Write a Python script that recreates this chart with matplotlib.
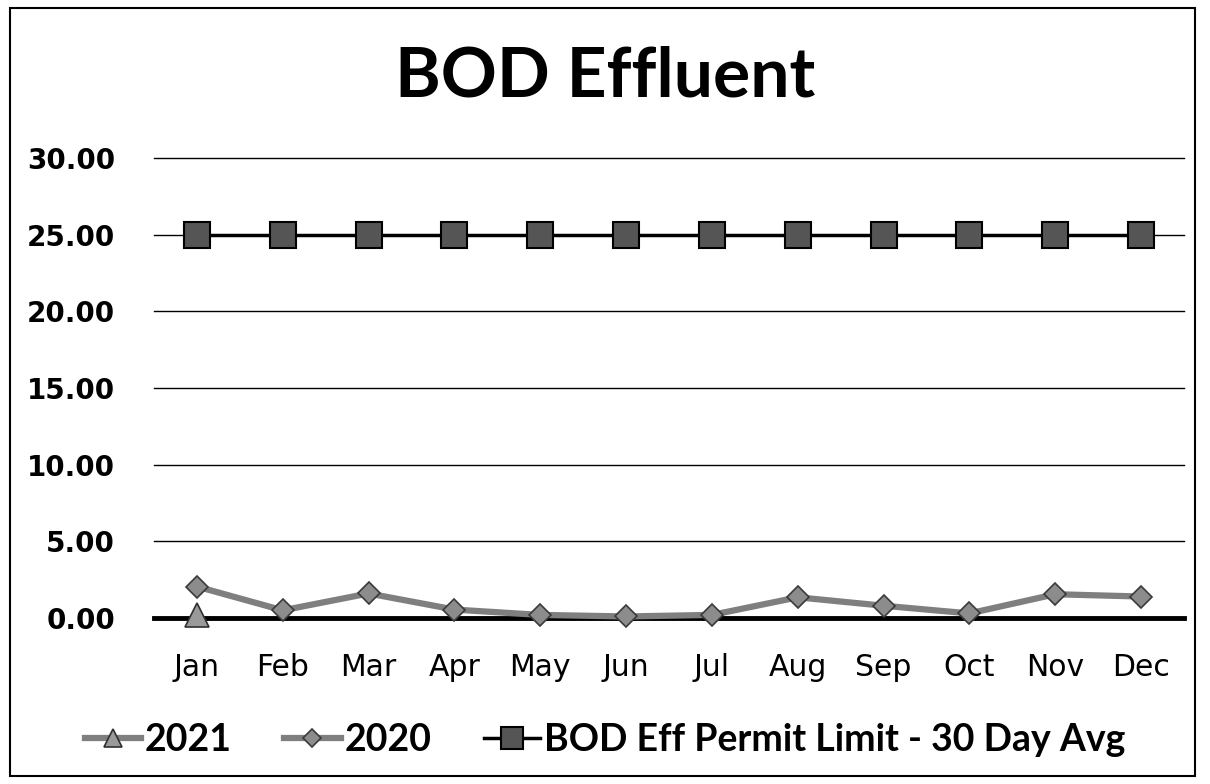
import numpy as np
import matplotlib.pyplot as plt
from matplotlib.patches import Rectangle

# 数据
months = ["Jan", "Feb", "Mar", "Apr", "May", "Jun",
          "Jul", "Aug", "Sep", "Oct", "Nov", "Dec"]
bod_2021 = [0.2]
bod_2020 = [2.05, 0.5, 1.6, 0.55, 0.2, 0.1, 0.2, 1.35, 0.8, 0.3, 1.55, 1.4]
permit_limit = [25.0] * 12
y_ticks = [0, 5, 10, 15, 20, 25, 30]

fig = plt.figure(figsize=(12.1, 7.84), dpi=100)
ax = fig.add_axes([154 / 1210, 1 - 618 / 784, 1030 / 1210, (618 - 158) / 784])

x = np.arange(len(months))

# 网格线
for t in y_ticks[1:]:
    ax.axhline(t, color="black", lw=1.0, zorder=1)
ax.axhline(0, color="black", lw=3.5, zorder=2)

ax.plot(x, permit_limit, color="black", lw=2.5, marker="s", markersize=19,
        markerfacecolor="#555555", markeredgecolor="black", markeredgewidth=1.5,
        label="BOD Eff Permit Limit - 30 Day Avg", zorder=4)
ax.plot(x, bod_2020, color="#7f7f7f", lw=4.5, marker="D", markersize=11,
        markerfacecolor="#8c8c8c", markeredgecolor="#3a3a3a", markeredgewidth=1.2,
        label="2020", zorder=5)
ax.plot(x[:len(bod_2021)], bod_2021, color="#7f7f7f", lw=4.5, marker="^", markersize=17,
        markerfacecolor="#9a9a9a", markeredgecolor="#303030", markeredgewidth=1.2,
        label="2021", zorder=6)

ax.set_xlim(-0.5, len(months) - 0.5)
ax.set_ylim(0, 30)
ax.set_yticks(y_ticks)
ax.set_yticklabels(["%.2f" % t for t in y_ticks], fontsize=20, fontweight="bold",
                   family="DejaVu Sans")
ax.set_xticks(x)
ax.set_xticklabels(months, fontsize=21.5, family="DejaVu Sans")
ax.tick_params(axis="y", length=0, pad=28)
ax.tick_params(axis="x", length=0, pad=25)
for s in ax.spines.values():
    s.set_visible(False)
for line in ax.lines:
    line.set_clip_on(False)

fig.text(0.5, 1 - 77 / 784, "BOD Effluent", ha="center", va="center",
         fontsize=50, fontweight="bold", family="Lato")

handles, labels = ax.get_legend_handles_labels()
order = [2, 1, 0]
fig.legend([handles[i] for i in order], [labels[i] for i in order],
           loc="center", bbox_to_anchor=(0.5, 1 - 740 / 784), ncol=3, frameon=False,
           prop={"family": "Lato", "weight": "bold", "size": 27},
           handlelength=1.5, handletextpad=0.1, columnspacing=1.4, markerscale=0.8)

# 外框
fig.patches.append(Rectangle((10 / 1210, 8 / 784), 1185 / 1210, 768 / 784,
                             transform=fig.transFigure, fill=False,
                             edgecolor="black", lw=1.5))

fig.savefig("out.png", dpi=100)
